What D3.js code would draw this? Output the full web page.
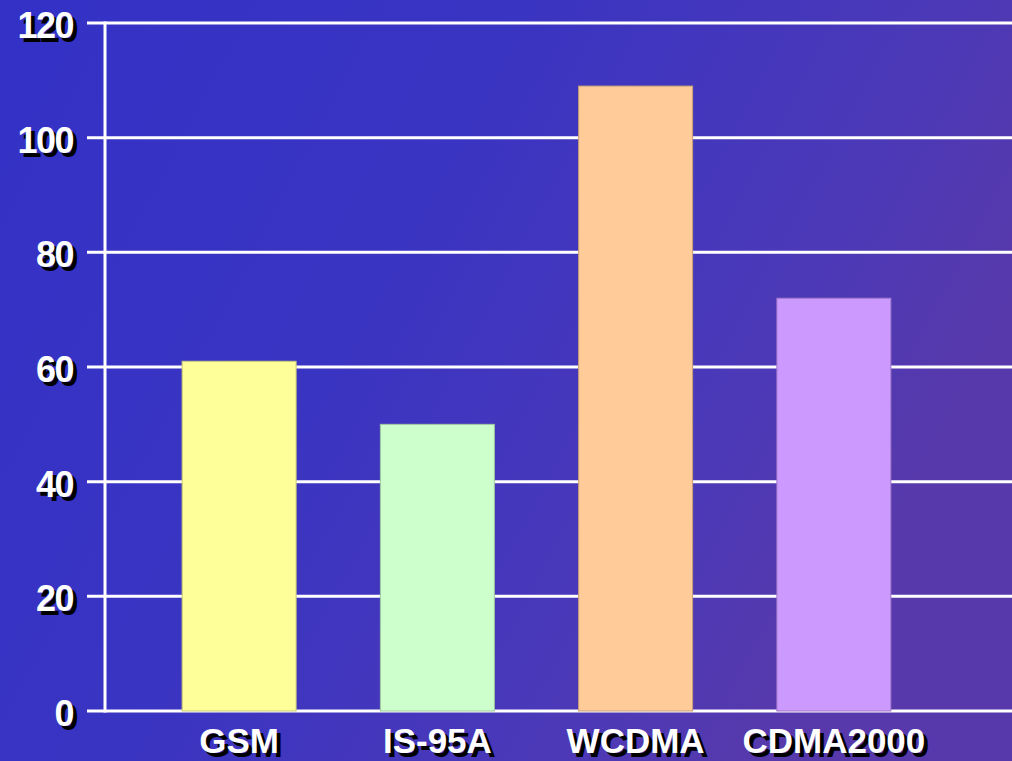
<!DOCTYPE html>
<html>
<head>
<meta charset="utf-8">
<script src="https://cdn.jsdelivr.net/npm/d3@7"></script>
<style>
  html, body { margin: 0; padding: 0; background: #3a33c0; }
  svg { display: block; }
  text { font-family: "Liberation Sans", Arial, sans-serif; font-weight: bold; }
</style>
</head>
<body>
<svg id="chart" width="1012" height="761"></svg>
<script>
// Chart data
const categories = ["GSM", "IS-95A", "WCDMA", "CDMA2000"];
const values = [61, 50, 109, 72];
const barColors = ["#ffff99", "#ccffcc", "#ffcc99", "#cc99ff"];
const yTicks = [0, 20, 40, 60, 80, 100, 120];

const W = 1012, H = 761;
const svg = d3.select("#chart");

// Background gradient, blue on the left shading to violet on the right
const defs = svg.append("defs");
const grad = defs.append("linearGradient")
  .attr("id", "bg").attr("x1", 0).attr("y1", 0).attr("x2", 1).attr("y2", 0.4);
grad.append("stop").attr("offset", "0%").attr("stop-color", "#3331c6");
grad.append("stop").attr("offset", "45%").attr("stop-color", "#3a34c2");
grad.append("stop").attr("offset", "80%").attr("stop-color", "#4b39b8");
grad.append("stop").attr("offset", "100%").attr("stop-color", "#5739ab");
svg.append("rect").attr("width", W).attr("height", H).attr("fill", "url(#bg)");

// Scales
const axisX = 105;
const y = d3.scaleLinear().domain([0, 120]).range([711, 23]);
const x = d3.scaleBand().domain(categories).range([140, 933]).paddingInner(0.425).paddingOuter(0.2125);

// Gridlines (with short tick stubs left of the axis)
svg.append("g").selectAll("line").data(yTicks).join("line")
  .attr("x1", 87).attr("x2", W)
  .attr("y1", d => y(d)).attr("y2", d => y(d))
  .attr("stroke", "#ffffff").attr("stroke-width", 3);

// Vertical axis line
svg.append("line")
  .attr("x1", axisX).attr("x2", axisX)
  .attr("y1", y(120) - 1.5).attr("y2", y(0) + 1.5)
  .attr("stroke", "#ffffff").attr("stroke-width", 3);

// Bars
svg.append("g").selectAll("rect").data(categories).join("rect")
  .attr("x", d => x(d))
  .attr("width", x.bandwidth())
  .attr("y", (d, i) => y(values[i]))
  .attr("height", (d, i) => y(0) - y(values[i]))
  .attr("fill", (d, i) => barColors[i])
  .attr("stroke", (d, i) => d3.color(barColors[i]).darker(0.7))
  .attr("stroke-width", 1);

// Text with a drop shadow
function shadowText(g, xPos, yPos, str, anchor, dy) {
  g.append("text").attr("x", xPos + 4).attr("y", yPos + 4).attr("dy", dy)
    .attr("text-anchor", anchor).attr("fill", "#000000").text(str);
  g.append("text").attr("x", xPos).attr("y", yPos).attr("dy", dy)
    .attr("text-anchor", anchor).attr("fill", "#ffffff").text(str);
}

// Y tick labels
const yLab = svg.append("g").attr("font-size", 36).attr("letter-spacing", "-1.5px");
yTicks.forEach(t => shadowText(yLab, 73, y(t) + 2, String(t), "end", "0.36em"));

// Category labels
const xLab = svg.append("g").attr("font-size", 35);
categories.forEach(c => shadowText(xLab, x(c) + x.bandwidth() / 2, 753, c, "middle", 0));
</script>
</body>
</html>
